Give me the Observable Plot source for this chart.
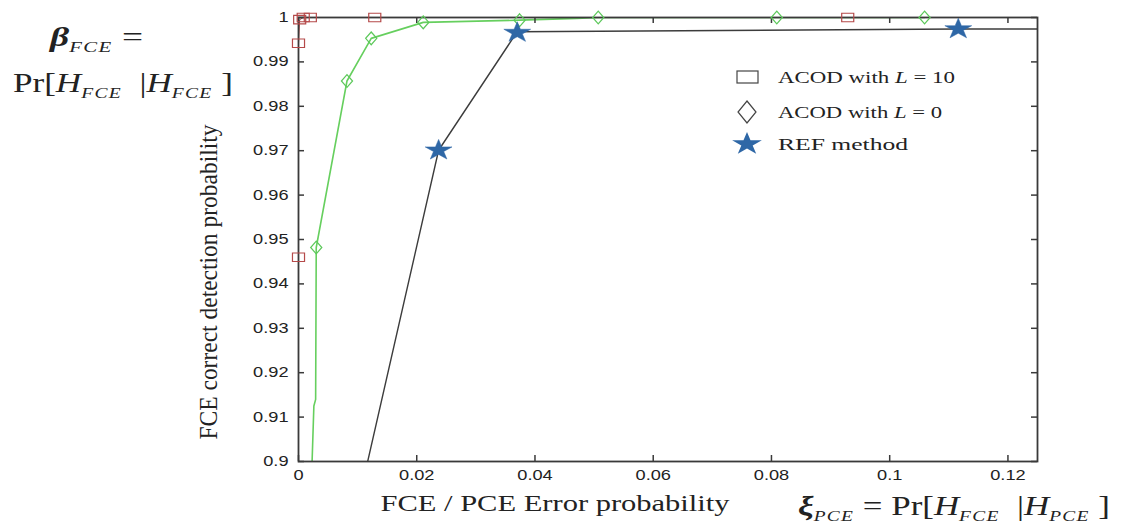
<!DOCTYPE html>
<html><head><meta charset="utf-8">
<script src="https://cdn.jsdelivr.net/npm/d3@7"></script>
<script src="https://cdn.jsdelivr.net/npm/@observablehq/plot@0.6"></script>
<style>html,body{margin:0;padding:0;background:#fff;} #chart{width:1121px;height:531px;overflow:hidden;}</style>
</head><body><div id="chart"></div>
<script>
// ---- data ----
const xTicks = [0, 0.02, 0.04, 0.06, 0.08, 0.1, 0.12];
const yTicks = [0.9, 0.91, 0.92, 0.93, 0.94, 0.95, 0.96, 0.97, 0.98, 0.99, 1];

// ACOD with L = 10 (red squares)
const acod10X = [0, 0, 0.0002, 0.0008, 0.0020, 0.0129, 0.0929];
const acod10Y = [0.9460, 0.9942, 0.9995, 1.0, 1.0, 1.0, 1.0];

// ACOD with L = 0 (green diamonds) – line trace and markers
const acod0LineX = [0.0023, 0.0026, 0.0029, 0.0030, 0.0082, 0.0123, 0.0211, 0.0374, 0.0471, 0.0507, 0.0809, 0.1059];
const acod0LineY = [0.9000, 0.9125, 0.9140, 0.9482, 0.9857, 0.9953, 0.9989, 0.9994, 0.9998, 1.0, 1.0, 1.0];
const acod0X = [0.0030, 0.0082, 0.0123, 0.0211, 0.0374, 0.0507, 0.0809, 0.1059];
const acod0Y = [0.9482, 0.9857, 0.9953, 0.9989, 0.9994, 1.0, 1.0, 1.0];

// REF method (blue stars) – line trace and markers
const refLineX = [0.0117, 0.0237, 0.0370, 0.1116, 0.1250];
const refLineY = [0.9000, 0.9701, 0.9968, 0.9974, 0.9974];
const refX = [0.0237, 0.0370, 0.1116];
const refY = [0.9701, 0.9966, 0.9974];

const legendLabels = ["ACOD with", "ACOD with", "REF method"];
const legendL = ["10", "0", null];

// ---- layout ----
const W = 1121, H = 531, mL = 298, mR = 84, mT = 17, mB = 70;
const pw = W - mL - mR, ph = H - mT - mB;
const SX = 1.3; // horizontal stretch of the reference image

// custom symbols (horizontally stretched like the source)
const rectSym = {draw(ctx, size) { const s = Math.sqrt(size), w = s * 0.68, h = s * 0.48;
  ctx.moveTo(-w, -h); ctx.lineTo(w, -h); ctx.lineTo(w, h); ctx.lineTo(-w, h); ctx.closePath(); }};
const diamondSym = {draw(ctx, size) { const s = Math.sqrt(size), a = s * 0.8, b = s * 0.7;
  ctx.moveTo(0, -a); ctx.lineTo(b, 0); ctx.lineTo(0, a); ctx.lineTo(-b, 0); ctx.closePath(); }};
const starSym = {draw(ctx, size) { const R = Math.sqrt(size) * 0.85, ri = R * 0.382;
  for (let i = 0; i < 10; i++) { const ang = i * Math.PI / 5 - Math.PI / 2, rr = i % 2 ? ri : R;
    const px = Math.cos(ang) * rr * SX, py = Math.sin(ang) * rr;
    if (i) ctx.lineTo(px, py); else ctx.moveTo(px, py); }
  ctx.closePath(); }};

const idx = n => d3.range(n);
const fmt = d3.format("~g");

const chart = Plot.plot({
  width: W, height: H,
  marginLeft: mL, marginRight: mR, marginTop: mT, marginBottom: mB,
  style: {fontFamily: "'Liberation Sans', Arial, sans-serif", fontSize: "14px", color: "#222", background: "#fff"},
  x: {domain: [0, 0.125], label: null},
  y: {domain: [0.9, 1], label: null},
  marks: [
    Plot.line(idx(refLineX.length), {x: i => refLineX[i], y: i => refLineY[i], stroke: "#3c3c3c", strokeWidth: 1.4, clip: true}),
    Plot.line(idx(acod0LineX.length), {x: i => acod0LineX[i], y: i => acod0LineY[i], stroke: "#66cf5e", strokeWidth: 1.6, clip: true}),
    Plot.line(idx(acod10X.length), {x: i => acod10X[i], y: i => acod10Y[i], stroke: "#b54a4a", strokeWidth: 1, clip: true}),
    Plot.frame({stroke: "#3a3a3a", strokeWidth: 1.8}),
    Plot.tickX(xTicks, {x: d => d, insetTop: ph - 6, stroke: "#3a3a3a", strokeWidth: 1.5}),
    Plot.tickX(xTicks, {x: d => d, insetBottom: ph - 6, stroke: "#3a3a3a", strokeWidth: 1.5}),
    Plot.tickY(yTicks, {y: d => d, insetRight: pw - 6, stroke: "#3a3a3a", strokeWidth: 1.5}),
    Plot.tickY(yTicks, {y: d => d, insetLeft: pw - 6, stroke: "#3a3a3a", strokeWidth: 1.5}),
    Plot.axisX({ticks: xTicks, tickSize: 0, tickPadding: 9, tickFormat: fmt, label: null}),
    Plot.axisY({ticks: yTicks, tickSize: 0, tickPadding: 10, tickFormat: fmt, label: null}),
    Plot.dot(idx(acod10X.length), {x: i => acod10X[i], y: i => acod10Y[i], symbol: rectSym, r: 5, stroke: "#b54a4a", fill: "none", strokeWidth: 1.2}),
    Plot.dot(idx(acod0X.length), {x: i => acod0X[i], y: i => acod0Y[i], symbol: diamondSym, r: 4.5, stroke: "#5cc85a", fill: "none", strokeWidth: 1.2}),
    Plot.dot(idx(refX.length), {x: i => refX[i], y: i => refY[i], symbol: starSym, r: 7.2, fill: "#2e67a6", stroke: "#2e67a6", strokeWidth: 0.5})
  ]
});
document.getElementById("chart").appendChild(chart);

const svg = d3.select(chart);
// stretch tick labels horizontally
svg.selectAll('g[aria-label="x-axis tick label"] text, g[aria-label="y-axis tick label"] text').each(function() {
  const L = this.getComputedTextLength();
  this.setAttribute("textLength", L * SX);
  this.setAttribute("lengthAdjust", "spacingAndGlyphs");
});

const serif = "'Liberation Serif', 'Times New Roman', serif";
const g = svg.append("g").attr("font-family", serif).attr("fill", "#222");

// rich text helper: parts = [{t, size, style, weight, dy, ls}]
function rich(x, y, parts, width, anchor = "start") {
  const t = g.append("text").attr("x", x).attr("y", y).attr("text-anchor", anchor);
  for (const p of parts) {
    const s = t.append("tspan").text(p.t).attr("font-size", p.size || 27);
    if (p.style) s.attr("font-style", p.style);
    if (p.weight) s.attr("font-weight", p.weight);
    if (p.dy) s.attr("dy", p.dy);
    if (p.ls) s.attr("letter-spacing", p.ls);
  }
  if (width) { t.attr("textLength", width).attr("lengthAdjust", "spacingAndGlyphs"); }
  return t;
}
const sub = (s) => ({t: s, size: 15, style: "italic", dy: 6, ls: 1});

// axis titles
rich(555, 511, [{t: "FCE / PCE Error probability", size: 23.5}], 349, "middle");
g.append("text").attr("transform", `translate(217,282) scale(1.08,1) rotate(-90)`)
  .attr("text-anchor", "middle").attr("font-size", 23.5).text("FCE correct detection probability");

// math annotations
rich(50, 46, [{t: "β", style: "italic", weight: "bold"}, sub("FCE"), {t: " =", dy: -6}], 93);
rich(13, 92, [{t: "Pr["}, {t: "H", style: "italic"}, sub("FCE"), {t: "  |", dy: -6}, {t: "H", style: "italic"}, sub("FCE"), {t: " ]", dy: -6}], 220);
rich(798, 515, [{t: "ξ", style: "italic", weight: "bold"}, sub("PCE"), {t: " = Pr[", dy: -6}, {t: "H", style: "italic"}, sub("FCE"), {t: "  |", dy: -6}, {t: "H", style: "italic"}, sub("PCE"), {t: " ]", dy: -6}], 312);

// legend
const legY = [77, 112, 144];
const legW = [177, 164, 130];
const lg = svg.append("g");
lg.append("rect").attr("x", 737).attr("y", legY[0] - 6).attr("width", 21).attr("height", 12)
  .attr("fill", "none").attr("stroke", "#444").attr("stroke-width", 1.2);
lg.append("path").attr("d", `M747,${legY[1] - 11}L756,${legY[1]}L747,${legY[1] + 11}L738,${legY[1]}Z`)
  .attr("fill", "none").attr("stroke", "#444").attr("stroke-width", 1.2);
lg.append("path").attr("transform", `translate(747,${legY[2]})`)
  .attr("d", d3.symbol(starSym, 200)()).attr("fill", "#2e67a6");
legendLabels.forEach((lab, i) => {
  const parts = [{t: lab, size: 16.5}];
  if (legendL[i] !== null) { parts.push({t: " L", size: 16.5, style: "italic"}, {t: " = " + legendL[i], size: 16.5}); }
  rich(778, legY[i] + 6, parts, legW[i]);
});
</script>
</body></html>
